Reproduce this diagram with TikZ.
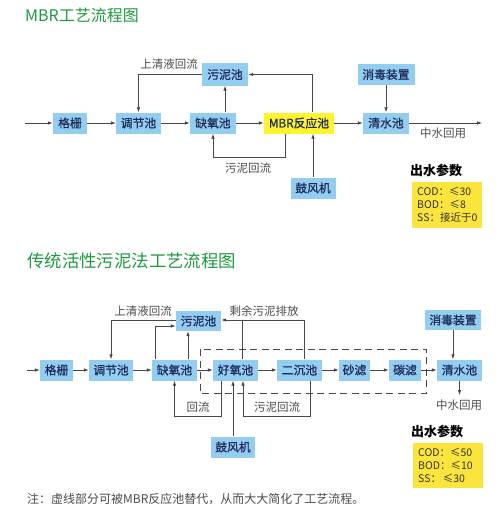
\documentclass[tikz,border=0pt]{standalone}
\usepackage{fontspec}
\setmainfont{Noto Sans CJK SC}
\newfontfamily\boxfont[FakeBold=0.8]{Noto Sans CJK SC}
\usetikzlibrary{arrows.meta}
\definecolor{boxblue}{HTML}{93CDF0}
\definecolor{mbryellow}{HTML}{FFF22E}
\definecolor{paramyellow}{HTML}{FBE43C}
\definecolor{ink}{HTML}{1F2B5C}
\definecolor{wire}{HTML}{4E4350}
\definecolor{muted}{HTML}{4A4A4A}
\definecolor{titlegreen}{HTML}{1E9A3E}

\begin{document}
\begin{tikzpicture}[x=1pt, y=-1pt, >={Latex[length=5pt,width=3.6pt]},
    font=\fontsize{11.5}{13}\selectfont,
    proc/.style={fill=boxblue, text=ink, minimum height=21pt, inner sep=0pt,
      font=\boxfont\fontsize{11.8}{13}\selectfont},
    flow/.style={wire, line width=0.8pt, ->},
    link/.style={wire, line width=0.8pt},
    lbl/.style={text=muted, inner sep=0pt},
    hdr/.style={text=titlegreen, anchor=west, inner sep=0pt, font=\fontsize{16}{18}\selectfont}]
  \useasboundingbox (0,0) rectangle (500,519);

  % --- MBR process ---
  \node[hdr] (t1) at (25,15) {MBR工艺流程图};
  \coordinate (in1) at (25,123);
  \coordinate (out1) at (482,123);
  \node[proc, minimum width=34pt] (gs1) at (70,123) {格栅};
  \node[proc, minimum width=45pt] (tj1) at (138.5,123) {调节池};
  \node[proc, minimum width=46pt] (qy1) at (213,123) {缺氧池};
  \node[proc, minimum width=70pt, fill=mbryellow] (mbr) at (299,123) {MBR反应池};
  \node[proc, minimum width=46pt] (qs1) at (386,123) {清水池};
  \node[proc, minimum width=46pt, minimum height=22pt] (wn1) at (225,74.5) {污泥池};
  \node[proc, minimum width=57pt] (xd1) at (386,74.5) {消毒装置};
  \node[proc, minimum width=45pt] (gf1) at (313,188) {鼓风机};
  \coordinate (r1) at (213,157);

  \draw[flow] (in1) -- (gs1);
  \draw[flow] (gs1) -- (tj1);
  \draw[flow] (tj1) -- (qy1);
  \draw[flow] (qy1) -- (mbr);
  \draw[flow] (mbr) -- (qs1);
  \draw[flow] (qs1) -- (out1);
  \draw[flow] (wn1.west) -| (tj1.north);
  \draw[flow] (wn1.south |- qy1.north) -- (wn1.south);
  \draw[flow] ([xshift=13pt]mbr.north) |- (wn1.east);
  \draw[flow] ([xshift=-14pt]mbr.south) |- (r1) -- (qy1.south);
  \draw[flow] (gf1.north) -- (gf1.north |- mbr.south);
  \draw[flow] (xd1) -- (qs1);

  \node[lbl] (l1) at (169,64) {上清液回流};
  \node[lbl] (l2) at (248,168) {污泥回流};
  \node[lbl] (l3) at (443,133) {中水回用};
  \node[inner sep=0pt, font=\fontsize{13}{15}\selectfont\bfseries] (p1) at (436,170) {出水参数};
  \node[fill=paramyellow, minimum width=70pt, minimum height=46pt] (pb1) at (447,205) {};
  \node[anchor=west, align=left, inner sep=0pt, text=black!80, font=\fontsize{10.5}{13}\selectfont]
    (pt1) at (417,205) {COD：≤30\\BOD：≤8\\SS：接近于0};

  % --- activated sludge process ---
  \node[hdr, font=\fontsize{17.4}{19}\selectfont] (t2) at (27,261) {传统活性污泥法工艺流程图};
  \draw[wire, line width=0.8pt, dash pattern=on 7pt off 4.5pt] (200,349) rectangle (426,393);
  \coordinate (in2) at (27,370);
  \coordinate (out2) at (459.5,395);
  \node[proc, minimum width=33pt] (gs2) at (56.5,370) {格栅};
  \node[proc, minimum width=44pt] (tj2) at (111,370) {调节池};
  \node[proc, minimum width=45pt] (qy2) at (174.5,370) {缺氧池};
  \node[proc, minimum width=45pt] (hy2) at (235.5,370) {好氧池};
  \node[proc, minimum width=45pt] (ec2) at (299.5,370) {二沉池};
  \node[proc, minimum width=31pt] (sl2) at (354.5,370) {砂滤};
  \node[proc, minimum width=32pt] (tl2) at (405,370) {碳滤};
  \node[proc, minimum width=45pt] (qs2) at (459.5,370) {清水池};
  \node[proc, minimum width=45pt, minimum height=20pt] (wn2) at (198.5,321) {污泥池};
  \node[proc, minimum width=56pt, minimum height=20pt] (xd2) at (453,320) {消毒装置};
  \node[proc, minimum width=44pt] (gf2) at (233,447) {鼓风机};
  \coordinate (r2) at (174.5,416);
  \coordinate (r3) at (243,416);
  \coordinate (j2) at (242,320);

  \draw[flow] (in2) -- (gs2);
  \draw[flow] (gs2) -- (tj2);
  \draw[flow] (tj2) -- (qy2);
  \draw[flow] (qy2) -- (hy2);
  \draw[flow] (hy2) -- (ec2);
  \draw[flow] (ec2) -- (sl2);
  \draw[flow] (sl2) -- (tl2);
  \draw[flow] (tl2) -- (qs2);
  \draw[flow] (qs2) -- (out2);
  \draw[flow] (xd2.south) -- (xd2.south |- qs2.north);
  \draw[flow] ([yshift=1pt]wn2.west) -| (tj2.north);
  \draw[flow] ([xshift=-19.5pt]qy2.north) |- ([yshift=-5pt]wn2.west);
  \draw[flow] ([xshift=13.5pt]qy2.north) -- ([xshift=13.5pt]qy2.north |- wn2.south);
  \draw[flow] ([xshift=4.5pt]ec2.north) |- ([yshift=1pt]wn2.east);
  \draw[link] (j2 |- hy2.north) -- (j2);
  \draw[flow] ([xshift=-14.5pt]hy2.south) |- (r2) -- (qy2.south);
  \draw[flow] ([xshift=10.5pt]ec2.south) |- (r3) -- (r3 |- hy2.south);
  \draw[flow] (gf2.north) -- (gf2.north |- hy2.south);

  \node[lbl] (l4) at (143,311) {上清液回流};
  \node[lbl] (l5) at (264,311) {剩余污泥排放};
  \node[lbl] (l6) at (198,407) {回流};
  \node[lbl] (l7) at (277,407) {污泥回流};
  \node[lbl] (l8) at (459,405) {中水回用};
  \node[inner sep=0pt, font=\fontsize{13}{15}\selectfont\bfseries] (p2) at (437,431) {出水参数};
  \node[fill=paramyellow, minimum width=70pt, minimum height=45pt] (pb2) at (448,465.5) {};
  \node[anchor=west, align=left, inner sep=0pt, text=black!80, font=\fontsize{10.5}{13}\selectfont]
    (pt2) at (418,465.5) {COD：≤50\\BOD：≤10\\SS：\,≤30};

  \node[lbl, anchor=west, font=\fontsize{12}{14}\selectfont] (n1) at (27,499)
    {注：虚线部分可被MBR反应池替代，从而大大简化了工艺流程。};
\end{tikzpicture}
\end{document}
